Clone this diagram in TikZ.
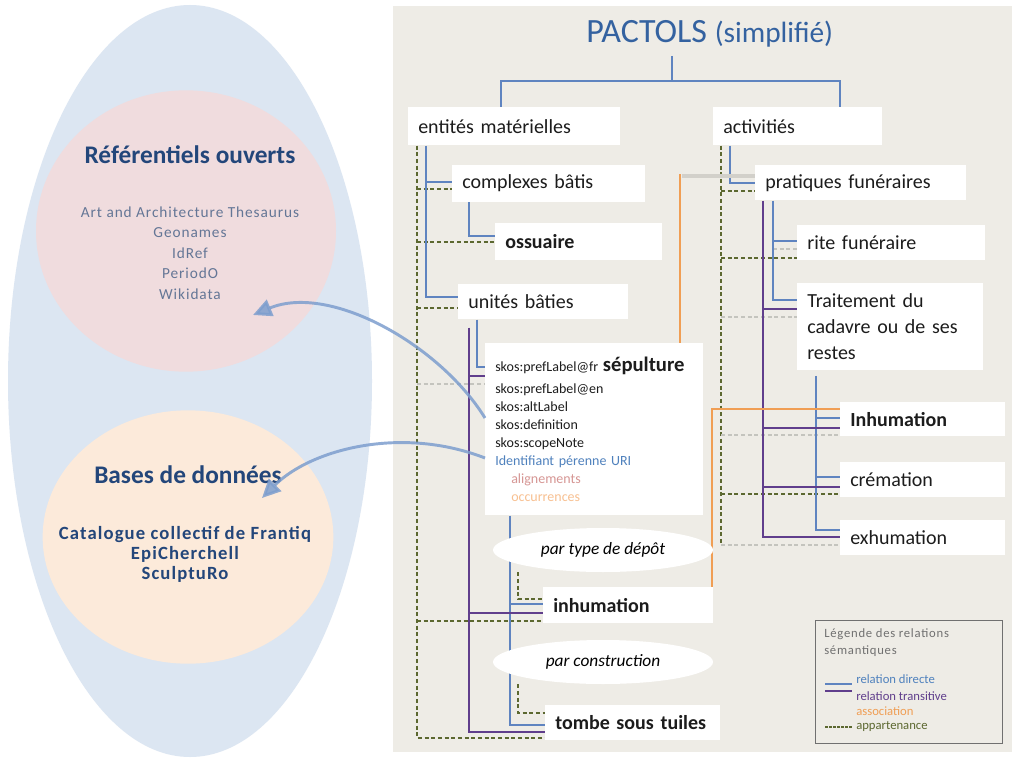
\documentclass[tikz,border=0pt]{standalone}
\usepackage{fontspec}
\usepackage{tikz}
\usetikzlibrary{shapes.geometric,arrows.meta}
\setmainfont{Carlito}
\newfontfamily\spaced[LetterSpace=6]{Carlito}
\definecolor{panel}{RGB}{238,236,230}
\definecolor{zoneblue}{RGB}{220,230,242}
\definecolor{zonepink}{RGB}{240,220,222}
\definecolor{zoneorange}{RGB}{252,234,218}
\definecolor{headblue}{RGB}{35,70,122}
\definecolor{listgrey}{RGB}{100,118,150}
\definecolor{titleblue}{RGB}{52,98,160}
\definecolor{dirblue}{RGB}{95,132,192}
\definecolor{transpurple}{RGB}{96,62,140}
\definecolor{assocorange}{RGB}{240,158,84}
\definecolor{memberolive}{RGB}{92,104,48}
\definecolor{faintgrey}{RGB}{196,196,190}
\definecolor{assocshade}{RGB}{210,208,202}
\definecolor{flowblue}{RGB}{125,158,206}
\definecolor{boxtext}{RGB}{28,28,28}
\definecolor{leggrey}{RGB}{112,112,112}
\definecolor{uriblue}{RGB}{79,129,189}
\definecolor{alignpink}{RGB}{214,150,148}
\definecolor{occorange}{RGB}{248,192,145}
\pgfdeclarelayer{back}
\pgfdeclarelayer{lines}
\pgfdeclarelayer{front}
\pgfsetlayers{back,lines,main,front}

\begin{document}
\begin{tikzpicture}[x=0.75pt,y=-0.75pt,
    box/.style={fill=white, anchor=north west, inner xsep=7.5pt, inner ysep=0pt, align=left,
        minimum height=27.5pt, text=boxtext, font=\fontsize{15}{18}\selectfont},
    bbox/.style={box, font=\fontsize{15}{18}\selectfont\bfseries},
    choice/.style={ellipse, fill=white, minimum width=165pt, minimum height=33pt, inner sep=0pt,
        font=\fontsize{13}{15}\selectfont\itshape},
    direct/.style={draw=dirblue, line width=0.8pt},
    trans/.style={draw=transpurple, line width=0.8pt},
    assoc/.style={draw=assocorange, line width=1.5pt},
    member/.style={draw=memberolive, line width=0.8pt, dash pattern=on 3pt off 2pt},
    faint/.style={draw=faintgrey, line width=0.8pt, dash pattern=on 3pt off 2pt},
    flow/.style={draw=flowblue, line width=2.2pt, opacity=.85, -{Triangle[length=14pt,width=13pt]}},
    legtext/.style={anchor=west, inner sep=0pt, font=\fontsize{9.5}{11}\selectfont}]
    \useasboundingbox (0,0) rectangle (1020,763);

    % zones on the left, panel on the right
    \begin{pgfonlayer}{back}
        \fill[white] (0,0) rectangle (1020,763);
        \node[ellipse, fill=zoneblue, minimum width=273pt, minimum height=564pt] (outer) at (190,381) {};
        \node[ellipse, fill=zonepink, minimum width=225pt, minimum height=211pt] (refzone) at (186,231) {};
        \node[ellipse, fill=zoneorange, minimum width=218pt, minimum height=190pt] (bddzone) at (188,537) {};
        \fill[panel] (393,6) rectangle (1012,752);
    \end{pgfonlayer}

    \node[font=\fontsize{19}{22}\selectfont\bfseries, text=headblue] (ref) at (190,155) {Référentiels ouverts};
    \node[font=\spaced\fontsize{11.5}{15.4}\selectfont, text=listgrey, align=center] (reflist) at (190,253)
        {Art and Architecture Thesaurus\\Geonames\\IdRef\\PeriodO\\Wikidata};
    \node[font=\fontsize{19}{22}\selectfont\bfseries, text=headblue] (bdd) at (188,475) {Bases de données};
    \node[font=\spaced\bfseries\fontsize{14}{15}\selectfont, text=headblue, align=center] (bddlist) at (185,554)
        {Catalogue collectif de Frantiq\\EpiCherchell\\SculptuRo};

    % thesaurus
    \node[anchor=base west, inner sep=0pt, text=titleblue] (title) at (586,43)
        {\fontsize{25.5}{28}\selectfont PACTOLS \fontsize{22}{26}\selectfont(simplifié)};
    \node[box, text width=144pt, minimum height=28.5pt] (ent) at (408,107) {entités matérielles};
    \node[box, text width=111.75pt, minimum height=28.5pt] (act) at (713,107) {activitiés};
    \node[box, text width=129.75pt] (cplx) at (452,165) {complexes bâtis};
    \node[bbox, text width=110.25pt] (oss) at (495,223) {ossuaire};
    \node[box, text width=112.5pt, minimum height=26.25pt] (unit) at (458,284) {unités bâties};
    \node[box, text width=148.5pt, minimum height=129pt, font=\fontsize{10.5}{13.5}\selectfont] (sep) at (485,343)
        {\mbox{skos:prefLabel@fr {\bfseries\fontsize{15.5}{18}\selectfont sépulture}}\\[3pt]
         skos:prefLabel@en\\
         skos:altLabel\\
         skos:definition\\
         skos:scopeNote\\
         \textcolor{uriblue}{Identifiant pérenne URI}\\
         \hspace*{12pt}\textcolor{alignpink}{alignements}\\
         \hspace*{12pt}\textcolor{occorange}{occurrences}};
    \node[choice] (pdep) at (603,550) {par type de dépôt};
    \node[bbox, text width=112.5pt, minimum height=27pt] (inh) at (543,587) {inhumation};
    \node[choice] (pcon) at (603,662) {par construction};
    \node[bbox, text width=116.25pt, minimum height=26.25pt] (tomb) at (545,705) {tombe sous tuiles};

    \node[box, text width=143.25pt, minimum height=26.25pt] (prat) at (755,165) {pratiques funéraires};
    \node[box, text width=126pt, minimum height=26.25pt] (rite) at (797,225) {rite funéraire};
    \node[box, text width=124.5pt, minimum height=65.25pt, font=\fontsize{15}{19.5}\selectfont] (trait) at (797,283)
        {Traitement du\\cadavre ou de ses\\restes};
    \node[bbox, text width=108.75pt, minimum height=25.5pt] (inhR) at (840,402) {Inhumation};
    \node[box, text width=108.75pt, minimum height=26.25pt] (crem) at (840,462) {crémation};
    \node[box, text width=108.75pt, minimum height=26.25pt] (exh) at (840,520) {exhumation};

    \begin{pgfonlayer}{lines}
        \coordinate (fork) at (672,81);
        \draw[direct, shorten <=6pt] (fork |- title.south) -- (fork);
        \draw[direct] (ent.north -| 501,0) |- (fork) -| (act.north -| 840,0);

        % entités matérielles
        \draw[member] (417,0 |- ent.south) -- (417,738) -- (tomb.west |- 0,738);
        \draw[member] (417,189) -- (cplx.west |- 0,189);
        \draw[member] (417,242) -- (oss.west |- 0,242);
        \draw[member] (417,308) -- (unit.west |- 0,308);
        \draw[faint] (417,384) -- (sep.west |- 0,384);
        \draw[member] (417,621) -- (inh.west |- 0,621);
        \draw[member] (518,0 |- pdep.south) |- (inh.west |- 0,599);
        \draw[member] (518,0 |- pcon.south) |- (tomb.west |- 0,713);
        \draw[direct] (426,0 |- ent.south) |- (unit.west |- 0,297);
        \draw[direct] (426,182) -- (cplx.west |- 0,182);
        \draw[direct] (469,0 |- cplx.south) |- (oss.west |- 0,236);
        \draw[direct] (477,0 |- unit.south) |- (sep.west |- 0,367);
        \draw[direct] (510,0 |- sep.south) |- (tomb.west |- 0,725);
        \draw[direct] (510,604) -- (inh.west |- 0,604);
        \draw[trans] ([yshift=-6pt]unit.south -| 469,0) |- (tomb.west |- 0,732);
        \draw[trans] (469,376) -- (sep.west |- 0,376);
        \draw[trans] (469,613) -- (inh.west |- 0,613);

        % activitiés
        \draw[member] (721,0 |- act.south) -- (721,545);
        \draw[faint] (721,545) -- (exh.west |- 0,545);
        \draw[member] (721,191) -- (prat.west |- 0,191);
        \draw[member] (721,258) -- (rite.west |- 0,258);
        \draw[faint] (773,249) -- (rite.west |- 0,249);
        \draw[faint] (721,317) -- (trait.west |- 0,317);
        \draw[faint] (721,435) -- (inhR.west |- 0,435);
        \draw[member] (721,494) -- (crem.west |- 0,494);
        \draw[direct] (730,0 |- act.south) |- (prat.west |- 0,183);
        \draw[direct] (773,0 |- prat.south) |- (trait.west |- 0,300);
        \draw[direct] (773,241) -- (rite.west |- 0,241);
        \draw[direct] ([yshift=-4pt]trait.south -| 816,0) |- (exh.west |- 0,530);
        \draw[direct] (816,418) -- (inhR.west |- 0,418);
        \draw[direct] (816,477) -- (crem.west |- 0,477);
        \draw[trans] (763,0 |- prat.south) |- (exh.west |- 0,537);
        \draw[trans] (763,309) -- (trait.west |- 0,309);
        \draw[trans] (763,428) -- (inhR.west |- 0,428);
        \draw[trans] (763,487) -- (crem.west |- 0,487);

        % associations
        \draw[draw=assocshade, line width=2.4pt] (682,176) -- (prat.west |- 0,176);
        \draw[assoc] (680,0 |- sep.north) -- (680,174);
        \draw[assoc] ([xshift=-1pt]inh.north east) |- (inhR.west |- 0,409);
    \end{pgfonlayer}

    % legend
    \node[draw=leggrey, line width=0.7pt, anchor=north west, minimum width=140pt, minimum height=92pt, inner sep=0pt] (leg) at (815,620) {};
    \node[anchor=north west, align=left, inner sep=0pt, text=leggrey, font=\spaced\fontsize{9.5}{12.75}\selectfont] (legtitle) at (824,628)
        {Légende des relations\\sémantiques};
    \draw[direct] (825,684) -- (852,684);
    \draw[trans] (825,691) -- (852,691);
    \draw[member, dash pattern=on 2pt off 1pt] (825,727) -- (852,727);
    \node[legtext, text=uriblue] (legdir) at (856,679) {relation directe};
    \node[legtext, text=transpurple] (legtrans) at (856,696) {relation transitive};
    \node[legtext, text=assocorange] (legassoc) at (856,711) {association};
    \node[legtext, text=memberolive] (legmember) at (856,727) {appartenance};

    % links to the outside
    \begin{pgfonlayer}{front}
        \coordinate (refin) at (253,315);
        \coordinate (bddin) at (262,498);
        \draw[flow] (sep.west |- 0,418) .. controls (440,345) and (330,283) .. (refin);
        \draw[flow] (sep.west |- 0,458) .. controls (400,425) and (310,450) .. (bddin);
    \end{pgfonlayer}
\end{tikzpicture}
\end{document}
